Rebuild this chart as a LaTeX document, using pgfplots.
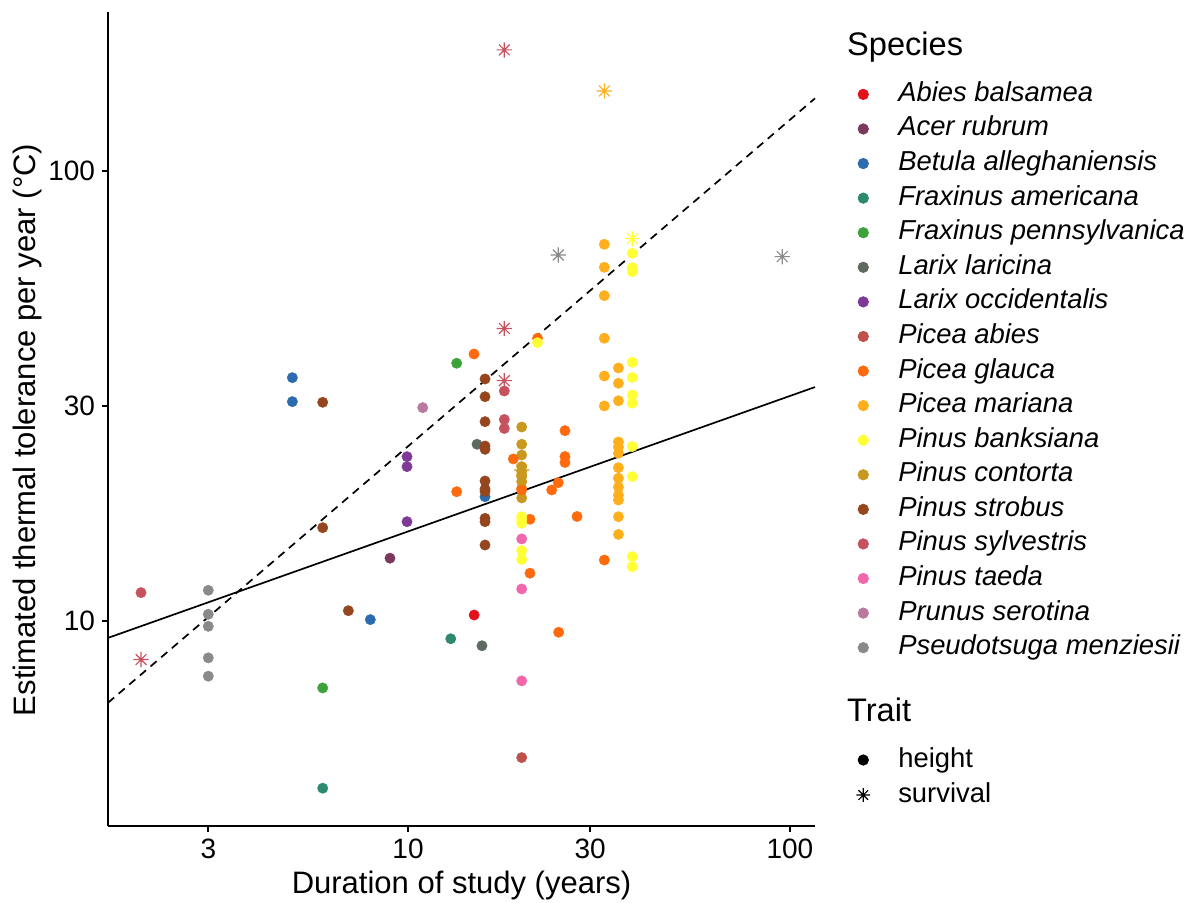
\documentclass[border=0pt]{standalone}
\usepackage{pgfplots}
\pgfplotsset{compat=1.18}
\usepackage{fontspec}
\setmainfont{Liberation Sans}

\definecolor{cAbies}{HTML}{E3111C}
\definecolor{cAcer}{HTML}{7B3A5B}
\definecolor{cBetula}{HTML}{2B6BAE}
\definecolor{cFraxA}{HTML}{2E8A6E}
\definecolor{cFraxP}{HTML}{3DA23B}
\definecolor{cLarL}{HTML}{5E6A60}
\definecolor{cLarO}{HTML}{7F3A98}
\definecolor{cPicA}{HTML}{C0514A}
\definecolor{cPicG}{HTML}{FF6A0E}
\definecolor{cPicM}{HTML}{FFAE1C}
\definecolor{cPinB}{HTML}{FFFF33}
\definecolor{cPinC}{HTML}{C9991F}
\definecolor{cPinSt}{HTML}{96461E}
\definecolor{cPinSy}{HTML}{C7525F}
\definecolor{cPinT}{HTML}{F266AE}
\definecolor{cPru}{HTML}{B97A9F}
\definecolor{cPse}{HTML}{8A8A8A}

\pgfdeclareplotmark{ast8}{%
  \pgfpathmoveto{\pgfqpoint{-\pgfplotmarksize}{0pt}}\pgfpathlineto{\pgfqpoint{\pgfplotmarksize}{0pt}}%
  \pgfpathmoveto{\pgfqpoint{0pt}{-\pgfplotmarksize}}\pgfpathlineto{\pgfqpoint{0pt}{\pgfplotmarksize}}%
  \pgfpathmoveto{\pgfqpoint{-0.7071\pgfplotmarksize}{-0.7071\pgfplotmarksize}}\pgfpathlineto{\pgfqpoint{0.7071\pgfplotmarksize}{0.7071\pgfplotmarksize}}%
  \pgfpathmoveto{\pgfqpoint{-0.7071\pgfplotmarksize}{0.7071\pgfplotmarksize}}\pgfpathlineto{\pgfqpoint{0.7071\pgfplotmarksize}{-0.7071\pgfplotmarksize}}%
  \pgfusepathqstroke}

\pgfplotsset{
  ht/.style={only marks, mark=*, mark size=2.6pt, forget plot, mark options={draw=#1, fill=#1, line width=0.2pt}},
  sv/.style={only marks, mark=ast8, mark size=3.8pt, forget plot, color=#1, line width=0.55pt},
}

\begin{document}
\begin{tikzpicture}
\useasboundingbox (-54pt,-38.5pt) rectangle (539.5pt,413pt);
\begin{axis}[
  at={(0pt,0pt)}, anchor=south west,
  scale only axis, width=353.5pt, height=407pt,
  xmode=log, ymode=log,
  xmin=1.639, xmax=116.3, ymin=3.503, ymax=225.6,
  axis x line*=bottom, axis y line*=left,
  axis line style={-, line width=0.8pt, black},
  tick align=outside, major tick length=3pt,
  tick style={black, line width=0.8pt},
  xtick={3,10,30,100}, xticklabels={3,10,30,100},
  ytick={10,30,100}, yticklabels={10,30,100},
  xminorticks=false, yminorticks=false,
  ticklabel style={font=\fontsize{14}{16}\selectfont},
  xlabel={Duration of study (years)},
  ylabel={Estimated thermal tolerance per year (°C)},
  label style={font=\fontsize{15.5}{18}\selectfont},
  xlabel style={at={(axis description cs:0.5,-0.0725)}, anchor=center},
  ylabel style={at={(axis description cs:-0.1132,0.4865)}, anchor=center},
  clip=false,
  legend cell align=left,
  legend image code/.code={\path[draw=none, fill=none] (-6pt,-3pt) rectangle (17.5pt,3pt); \draw[#1] plot coordinates {(0pt,0pt)};},
  legend style={at={(axis description cs:1.0513,0.9135)}, anchor=north west,
    draw=none, fill=none, inner sep=0pt, outer sep=0pt, row sep=5.29pt,
    font=\fontsize{13.7}{16}\selectfont\itshape,
    nodes={inner sep=0pt, text height=9.5pt, text depth=2.5pt, anchor=west}},
]
% Abies balsamea
\addplot[ht=cAbies] coordinates {(14.9,10.31)};
% Acer rubrum
\addplot[ht=cAcer] coordinates {(8.97,13.79)};
% Betula alleghaniensis
\addplot[ht=cBetula] coordinates {(4.98,34.73) (4.98,30.72) (7.97,10.07) (15.91,18.89)};
% Fraxinus americana
\addplot[ht=cFraxA] coordinates {(12.94,9.13) (5.98,4.25)};
% Fraxinus pennsylvanica
\addplot[ht=cFraxP] coordinates {(13.41,37.39) (5.98,7.10)};
% Larix laricina
\addplot[ht=cLarL] coordinates {(15.16,24.70) (15.62,8.81)};
% Larix occidentalis
\addplot[ht=cLarO] coordinates {(9.94,23.18) (9.94,22.03) (9.94,16.62)};
% Picea abies
\addplot[ht=cPicA] coordinates {(19.85,4.97)};
% Pinus contorta
\addplot[ht=cPinC] coordinates {(19.85,26.98) (19.85,24.70) (19.85,23.38) (19.85,22.03) (19.85,21.47) (19.85,20.93) (19.85,20.40) (19.85,19.72) (19.85,18.77)};
% Picea glauca
\addplot[ht=cPicG] coordinates {(21.83,42.49) (14.89,39.20) (18.87,22.91) (13.41,19.38) (19.85,19.55) (23.78,19.55) (24.74,20.29) (25.76,26.48) (25.76,23.20) (25.76,22.50) (20.86,16.83) (27.70,17.07) (20.86,12.77) (24.8,9.44) (32.66,13.66)};
% Picea mariana
\addplot[ht=cPicM] coordinates {(32.66,68.72) (32.66,61.09) (32.66,52.84) (32.66,42.49) (32.66,35.03) (32.66,30.05)
  (35.56,36.50) (35.56,33.75) (35.56,30.86) (35.56,24.99) (35.56,24.36) (35.56,23.59) (35.56,21.91) (35.56,20.76) (35.56,19.85) (35.56,19.05) (35.56,18.57) (35.56,17.05) (35.56,15.57)};
% Pinus banksiana
\addplot[ht=cPinB] coordinates {(21.83,41.53) (19.85,17.05) (19.85,16.77) (19.85,16.49) (19.85,14.33) (19.85,13.70)
  (38.66,65.63) (38.66,60.98) (38.66,59.74) (38.66,37.57) (38.66,34.76) (38.66,31.78) (38.66,30.47) (38.66,24.42) (38.66,20.93) (38.66,13.90) (38.66,13.20)};
% Pinus strobus
\addplot[ht=cPinSt] coordinates {(5.98,30.62) (5.98,16.12) (6.98,10.54) (15.91,34.50) (15.91,31.51) (15.91,27.73) (15.91,24.48) (15.91,24.07) (15.91,20.47) (15.91,19.65) (15.91,19.40) (15.91,16.91) (15.91,16.62) (15.91,14.75)};
% Pinus sylvestris
\addplot[ht=cPinSy] coordinates {(2.0,11.56) (17.87,32.44) (17.87,28.04) (17.87,26.78)};
% Pinus taeda
\addplot[ht=cPinT] coordinates {(19.85,15.22) (19.85,11.78) (19.85,7.36)};
% Prunus serotina
\addplot[ht=cPru] coordinates {(10.93,29.79)};
% Pseudotsuga menziesii
\addplot[ht=cPse] coordinates {(3.0,11.70) (3.0,10.35) (3.0,9.73) (3.0,8.28) (3.0,7.54)};
% survival
\addplot[sv=cPicM] coordinates {(32.66,150.6)};
\addplot[sv=cPinB] coordinates {(38.66,70.72)};
\addplot[sv=cPinC] coordinates {(19.85,21.65)};
\addplot[sv=cPinSy] coordinates {(17.87,185.8) (17.87,44.67) (17.87,34.2) (2.0,8.21)};
\addplot[sv=cPse] coordinates {(24.74,65.06) (95.46,64.5)};
% fitted lines
\addplot[black, line width=0.85pt, forget plot] coordinates {(1.639,9.17) (116.3,33.1)};
\addplot[black, line width=0.85pt, dash pattern=on 4pt off 3pt, forget plot] coordinates {(1.639,6.58) (116.3,145)};

% legend
\addlegendimage{only marks, mark=*, mark size=2.6pt, cAbies}\addlegendentry{Abies balsamea}
\addlegendimage{only marks, mark=*, mark size=2.6pt, cAcer}\addlegendentry{Acer rubrum}
\addlegendimage{only marks, mark=*, mark size=2.6pt, cBetula}\addlegendentry{Betula alleghaniensis}
\addlegendimage{only marks, mark=*, mark size=2.6pt, cFraxA}\addlegendentry{Fraxinus americana}
\addlegendimage{only marks, mark=*, mark size=2.6pt, cFraxP}\addlegendentry{Fraxinus pennsylvanica}
\addlegendimage{only marks, mark=*, mark size=2.6pt, cLarL}\addlegendentry{Larix laricina}
\addlegendimage{only marks, mark=*, mark size=2.6pt, cLarO}\addlegendentry{Larix occidentalis}
\addlegendimage{only marks, mark=*, mark size=2.6pt, cPicA}\addlegendentry{Picea abies}
\addlegendimage{only marks, mark=*, mark size=2.6pt, cPicG}\addlegendentry{Picea glauca}
\addlegendimage{only marks, mark=*, mark size=2.6pt, cPicM}\addlegendentry{Picea mariana}
\addlegendimage{only marks, mark=*, mark size=2.6pt, cPinB}\addlegendentry{Pinus banksiana}
\addlegendimage{only marks, mark=*, mark size=2.6pt, cPinC}\addlegendentry{Pinus contorta}
\addlegendimage{only marks, mark=*, mark size=2.6pt, cPinSt}\addlegendentry{Pinus strobus}
\addlegendimage{only marks, mark=*, mark size=2.6pt, cPinSy}\addlegendentry{Pinus sylvestris}
\addlegendimage{only marks, mark=*, mark size=2.6pt, cPinT}\addlegendentry{Pinus taeda}
\addlegendimage{only marks, mark=*, mark size=2.6pt, cPru}\addlegendentry{Prunus serotina}
\addlegendimage{only marks, mark=*, mark size=2.6pt, cPse}\addlegendentry{Pseudotsuga menziesii}

\node[anchor=base west, inner sep=0pt, font=\fontsize{16.3}{19}\selectfont] at (axis description cs:1.0449,0.946) {Species};
\node[anchor=base west, inner sep=0pt, font=\fontsize{16.3}{19}\selectfont] at (axis description cs:1.0449,0.1278) {Trait};
\end{axis}

\begin{axis}[
  at={(0pt,0pt)}, anchor=south west,
  scale only axis, width=353.5pt, height=407pt,
  hide axis, xmin=0, xmax=1, ymin=0, ymax=1,
  legend cell align=left,
  legend image code/.code={\path[draw=none, fill=none] (-6pt,-3pt) rectangle (17.5pt,3pt); \draw[#1] plot coordinates {(0pt,0pt)};},
  legend style={at={(axis description cs:1.0513,0.0958)}, anchor=north west,
    draw=none, fill=none, inner sep=0pt, outer sep=0pt, row sep=5.5pt,
    font=\fontsize{13.7}{16}\selectfont,
    nodes={inner sep=0pt, text height=9.5pt, text depth=2.5pt, anchor=west}},
]
\addlegendimage{only marks, mark=*, mark size=2.6pt, black}\addlegendentry{height}
\addlegendimage{only marks, mark=ast8, mark size=3.4pt, black, line width=0.55pt}\addlegendentry{survival}
\end{axis}
\end{tikzpicture}
\end{document}
